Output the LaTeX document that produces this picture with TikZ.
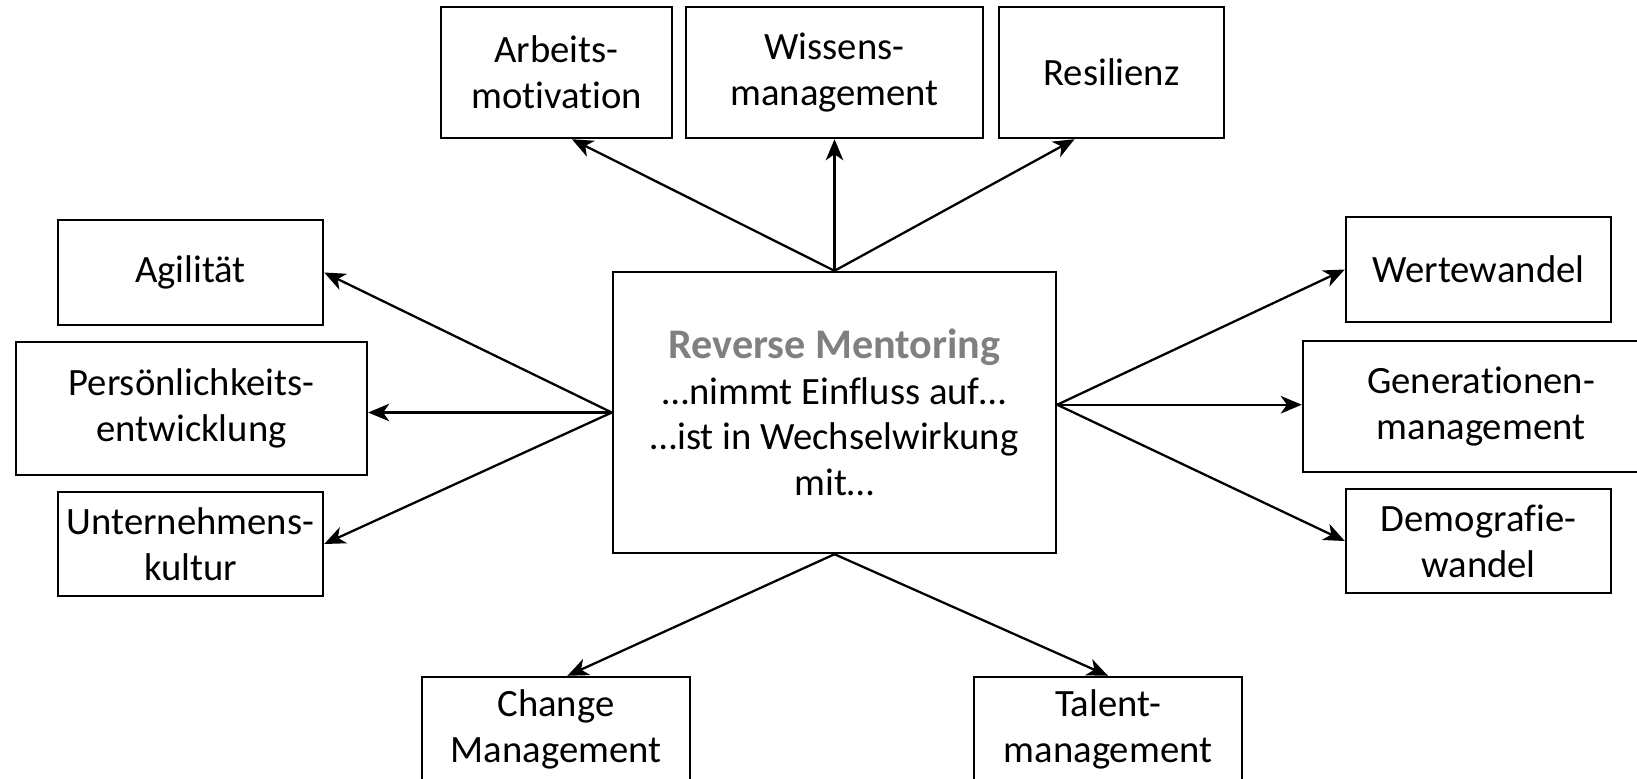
\documentclass[tikz,border=0pt]{standalone}
\usepackage{fontspec}
\setmainfont{Carlito}[Ligatures=NoCommon]
\usepackage{xcolor}
\usepackage{tikz}
\usetikzlibrary{arrows.meta}

\definecolor{titelgrau}{RGB}{128,128,128}

\begin{document}
\begin{tikzpicture}[x=0.02cm, y=-0.02cm,
    box/.style={draw, line width=1.4pt, align=center, inner sep=0pt,
      font=\fontsize{22}{26}\selectfont},
    pfeil/.style={-{Stealth[length=12pt, width=10pt, inset=3.5pt]}, line width=1.3pt}]
      \path[use as bounding box, clip] (0,0) rectangle (1637,778);

      \node[box, minimum width=8.86cm, minimum height=5.62cm] (rm) at (834.5, 412.5)
        {{\fontsize{24}{30}\selectfont\bfseries\color{titelgrau}Reverse Mentoring}\\
         …nimmt Einfluss auf…\\ …ist in Wechselwirkung\\ mit…};

      \node[box, minimum width=4.62cm, minimum height=2.62cm] (arbeit) at (556.5, 72.5) {Arbeits-\\motivation};
      \node[box, minimum width=5.94cm, minimum height=2.62cm] (wissen) at (834.5, 72.5) {Wissens-\\management};
      \node[box, minimum width=4.5cm, minimum height=2.62cm] (resil) at (1111.5, 72.5) {Resilienz};

      \node[box, minimum width=5.3cm, minimum height=2.1cm] (agil) at (190.5, 272.5) {Agilität};
      \node[box, minimum width=7.02cm, minimum height=2.66cm] (pers) at (191.5, 408.5) {Persönlichkeits-\\entwicklung};
      \node[box, minimum width=5.3cm, minimum height=2.08cm] (unter) at (190.5, 544) {Unternehmens-\\kultur};

      \node[box, minimum width=5.3cm, minimum height=2.1cm] (werte) at (1478.5, 269.5) {Wertewandel};
      \node[box, minimum width=7.12cm, minimum height=2.62cm] (gener) at (1481, 406.5) {Generationen-\\management};
      \node[box, minimum width=5.3cm, minimum height=2.08cm] (demo) at (1478.5, 541) {Demografie-\\wandel};

      \node[box, minimum width=5.36cm, minimum height=2.1cm] (change) at (556, 729.5) {Change\\Management};
      \node[box, minimum width=5.36cm, minimum height=2.1cm] (talent) at (1108, 729.5) {Talent-\\management};

      \draw[pfeil] (rm.north) -- (arbeit.-77);
      \draw[pfeil] (rm.north) -- (wissen.south);
      \draw[pfeil] (rm.north) -- (resil.-119);

      \draw[pfeil] (rm.west) -- (agil.east);
      \draw[pfeil] (rm.west) -- (rm.west -| pers.east);
      \draw[pfeil] (rm.west) -- (unter.east);

      \draw[pfeil] (rm.2) -- (werte.west);
      \draw[pfeil] (rm.2) -- (rm.2 -| gener.west);
      \draw[pfeil] (rm.2) -- (demo.west);

      \draw[pfeil] (rm.south) -- (change.78);
      \draw[pfeil] (rm.south) -- (talent.north);
    \end{tikzpicture}
\end{document}
